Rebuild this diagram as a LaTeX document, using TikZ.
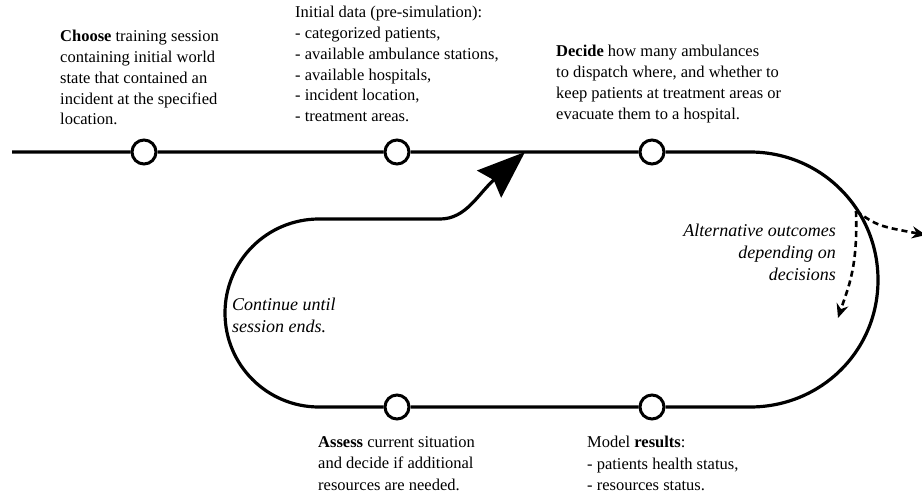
\documentclass[tikz,border=0pt]{standalone}
\usepackage{fontspec}
\setmainfont{Liberation Serif}
\usepackage{tikz}
\usetikzlibrary{arrows.meta}
\tikzstyle{track} = [line width=3.2pt]
\tikzstyle{waypoint} = [circle, draw, line width=3pt, fill=white, minimum size=24pt, inner sep=0pt]
\tikzstyle{note} = [inner sep=0pt, align=left, font=\fontsize{16.5}{20.8}\selectfont]
\tikzstyle{remark} = [inner sep=0pt, font=\fontsize{18}{22}\selectfont\itshape]
\tikzstyle{outcome} = [dash pattern=on 6pt off 4pt, line width=2.6pt, -{Stealth[length=14pt,width=12pt]}]
\tikzstyle{merge} = [-{Stealth[length=48pt,width=36pt,inset=6pt]}]

\begin{document}
\begin{tikzpicture}[yscale=-1]
			\useasboundingbox (0pt,0pt) rectangle (922pt,493pt);
			\coordinate (start) at (12pt,152pt);
			\node[waypoint] (choose) at (144pt,152pt) {};
			\node[waypoint] (initial) at (397pt,152pt) {};
			\node[waypoint] (decide) at (652pt,152pt) {};
			\node[waypoint] (results) at (652pt,407pt) {};
			\node[waypoint] (assess) at (397pt,407pt) {};
			\coordinate (rtop) at (750pt,152pt);
			\coordinate (rbot) at (750pt,407pt);
			\coordinate (lbot) at (319pt,407pt);
			\coordinate (ltop) at (319pt,219pt);
			\coordinate (bend) at (440pt,219pt);
			\coordinate (join) at (525pt,152pt);
			\coordinate (split) at (856pt,211pt);
			\coordinate (outA) at (926pt,235pt);
			\coordinate (outB) at (838pt,318pt);
			% main track
			\draw[track] (start) -- (choose) -- (initial) -- (decide) -- (rtop)
				.. controls (821pt,152pt) and (878pt,209pt) .. (878pt,280pt)
				.. controls (878pt,351pt) and (821pt,407pt) .. (rbot)
				-- (results) -- (assess) -- (lbot)
				.. controls (267pt,407pt) and (225pt,365pt) .. (225pt,313pt)
				.. controls (225pt,261pt) and (267pt,219pt) .. (ltop) -- (bend);
			\draw[track,merge] (bend) .. controls (466pt,219pt) and (478pt,194pt) .. (join);
			% alternative outcomes
			\draw[outcome] (split) .. controls (878pt,226pt) .. (outA);
			\draw[outcome] (split) .. controls (858pt,268pt) and (848pt,288pt) .. (outB);
			% texts
			\node[note, anchor=north west] (chooseText) at (60pt,30pt) {\textbf{Choose} training session\\containing initial world\\state that contained an\\incident at the specified\\location.};
			\node[note, anchor=north west] (initialText) at (295pt,6pt) {Initial data (pre-simulation):\\- categorized patients,\\- available ambulance stations,\\- available hospitals,\\- incident location,\\- treatment areas.};
			\node[note, anchor=north west] (decideText) at (556pt,45pt) {\textbf{Decide} how many ambulances\\to dispatch where, and whether to\\keep patients at treatment areas or\\evacuate them to a hospital.};
			\node[remark, align=right, anchor=north east] (altText) at (836pt,224pt) {Alternative outcomes\\depending on\\decisions};
			\node[remark, align=left, anchor=north west] (continueText) at (232pt,298pt) {Continue until\\session ends.};
			\node[note, anchor=north west, font=\fontsize{16.5}{21.5}\selectfont] (assessText) at (318pt,436pt) {\textbf{Assess} current situation\\and decide if additional\\resources are needed.};
			\node[note, anchor=north west, font=\fontsize{16.5}{21.5}\selectfont] (resultsText) at (587pt,436pt) {Model \textbf{results}:\\- patients health status,\\- resources status.};
		\end{tikzpicture}
\end{document}
